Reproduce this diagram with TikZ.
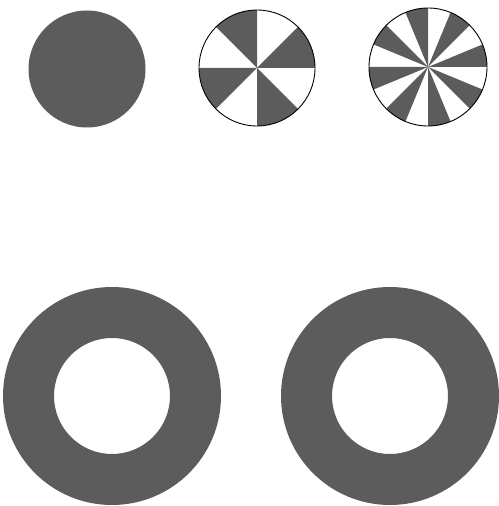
\documentclass[tikz,border=0pt]{standalone}
\usepackage{tikz}
\usetikzlibrary{positioning}
\definecolor{inkgray}{RGB}{92,92,92}

\begin{document}
\begin{tikzpicture}[x=1pt,y=1pt,
solid/.style={fill=inkgray,draw=none},
rim/.style={draw=black,line width=0.9pt}
]
\useasboundingbox (0,0) rectangle (498,506);
\coordinate (plain) at (87,437);
\coordinate (eight) at (257,438);
\coordinate (sixteen) at (428,439);
\coordinate (ringA) at (112,110);
\coordinate (ringB) at (390,110);
% top row
\fill[solid] (plain) circle[radius=58.5];
\foreach \a in {0,90,180,270}
  \fill[solid] (eight) -- ++(\a:58) arc[start angle=\a,end angle=\a+45,radius=58] -- cycle;
\draw[rim] (eight) circle[radius=58];
\foreach \a in {0,45,...,315}
  \fill[solid] (sixteen) -- ++(\a:59) arc[start angle=\a,end angle=\a+22.5,radius=59] -- cycle;
\draw[rim] (sixteen) circle[radius=59];
% rings
\fill[solid,even odd rule] (ringA) circle[radius=109] (ringA) circle[radius=58];
\fill[solid,even odd rule] (ringB) circle[radius=109] (ringB) circle[radius=58];
\end{tikzpicture}
\end{document}
